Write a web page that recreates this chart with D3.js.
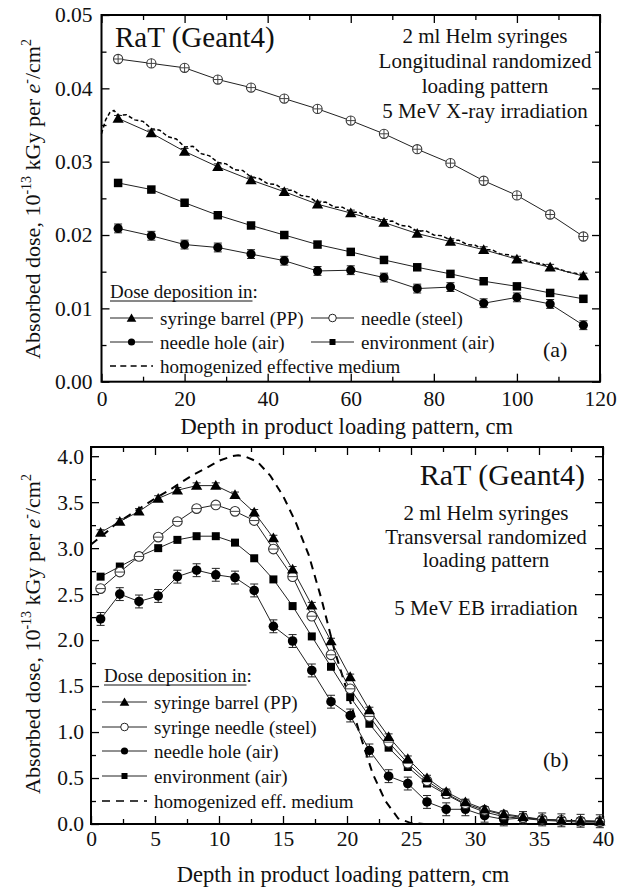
<!DOCTYPE html>
<html>
<head>
<meta charset="utf-8">
<script src="https://cdn.jsdelivr.net/npm/d3@7"></script>
<style>
  html, body { margin: 0; padding: 0; background: #fff; }
  svg { display: block; }
  text { font-family: "Liberation Serif", "Times New Roman", serif; fill: #111; }
</style>
</head>
<body>
<svg id="chart" width="634" height="888"></svg>
<script>
// ---------------- DATA ----------------
// Panel (a): longitudinal loading pattern, X-ray
const depthA = [4, 12, 20, 28, 36, 44, 52, 60, 68, 76, 84, 92, 100, 108, 116];
const barrelA = [0.0359, 0.0339, 0.0314, 0.0293, 0.0275, 0.0259, 0.0242, 0.0230, 0.0217, 0.0202, 0.0191, 0.0180, 0.0167, 0.0156, 0.0144];
const needleA = [0.0440, 0.0434, 0.0428, 0.0412, 0.0401, 0.0386, 0.0372, 0.0356, 0.0338, 0.0317, 0.0298, 0.0274, 0.0254, 0.0228, 0.0198];
const holeA   = [0.0209, 0.0199, 0.0187, 0.0183, 0.0174, 0.0165, 0.0151, 0.0152, 0.0142, 0.0127, 0.0129, 0.0107, 0.0115, 0.0106, 0.0077];
const envA    = [0.0271, 0.0262, 0.0244, 0.0227, 0.0213, 0.0200, 0.0187, 0.0177, 0.0166, 0.0156, 0.0147, 0.0137, 0.0130, 0.0121, 0.0113];
const holeErrA = 0.0006;
const barrelErrA = 0.0004;
const homDepthA = [0,1,2,3,4,6,8,10,12,14,16,18,20,22,24,26,28,30,32,34,36,38,40,42,44,46,48,50,52,54,56,58,60,62,64,66,68,70,72,74,76,78,80,82,84,86,88,90,92,94,96,98,100,102,104,106,108,110,112,114,116];
const homA = [0.0338,0.0357,0.0367,0.0370,0.0363,0.0364,0.0357,0.0355,0.0345,0.0343,0.0334,0.0331,0.0320,0.0321,0.0311,0.0308,0.0299,0.0297,0.0289,0.0288,0.0279,0.0277,0.0270,0.0269,0.0261,0.0261,0.0254,0.0252,0.0244,0.0245,0.0238,0.0238,0.0231,0.0231,0.0225,0.0224,0.0218,0.0219,0.0213,0.0212,0.0205,0.0206,0.0200,0.0199,0.0193,0.0193,0.0187,0.0186,0.0180,0.0180,0.0174,0.0173,0.0168,0.0166,0.0162,0.0161,0.0156,0.0154,0.0150,0.0148,0.0145];
const xTicksA = [0, 20, 40, 60, 80, 100, 120];
const yTicksA = [0.00, 0.01, 0.02, 0.03, 0.04, 0.05];
const legendA = ["syringe barrel (PP)", "needle (steel)", "needle hole (air)", "environment (air)", "homogenized effective medium"];
const notesA = ["2 ml Helm syringes", "Longitudinal randomized", "loading pattern", "5 MeV X-ray irradiation"];

// Panel (b): transversal loading pattern, EB
const depthB = [0.75,2.25,3.75,5.25,6.75,8.25,9.75,11.25,12.75,14.25,15.75,17.25,18.75,20.25,21.75,23.25,24.75,26.25,27.75,29.25,30.75,32.25,33.75,35.25,36.75,38.25,39.75];
const barrelB = [3.17,3.29,3.40,3.54,3.63,3.68,3.68,3.58,3.39,3.11,2.77,2.38,1.99,1.60,1.24,0.95,0.71,0.50,0.35,0.24,0.16,0.11,0.08,0.05,0.04,0.035,0.03];
const needleB = [2.56,2.74,2.91,3.12,3.29,3.43,3.47,3.40,3.30,2.99,2.69,2.26,1.84,1.47,1.17,0.89,0.66,0.47,0.33,0.22,0.15,0.10,0.07,0.05,0.04,0.03,0.025];
const holeB   = [2.23,2.50,2.42,2.48,2.69,2.76,2.71,2.68,2.54,2.15,1.99,1.67,1.33,1.18,0.80,0.52,0.44,0.24,0.16,0.16,0.09,0.05,0.065,0.05,0.04,0.035,0.03];
const envB    = [2.69,2.80,2.91,3.00,3.09,3.13,3.13,3.06,2.89,2.66,2.37,2.04,1.71,1.38,1.09,0.83,0.62,0.44,0.32,0.21,0.13,0.08,0.06,0.04,0.03,0.02,0.02];
const holeErrB = 0.07;
const barrelErrB = 0.03;
const homDepthB = [0,1,2,3,4,5,6,7,8,9,10,11,11.5,12,13,14,15,16,17,18,19,20,21,22,23,24,25,26,28,30,32,34,36,38,40];
const homB = [3.04,3.15,3.27,3.36,3.45,3.54,3.62,3.71,3.80,3.87,3.95,4.00,4.01,4.00,3.94,3.79,3.57,3.28,2.93,2.45,1.90,1.45,0.98,0.55,0.25,0.06,0.01,0.0,0.0,0.0,0.0,0.0,0.0,0.0,0.0];
const xTicksB = [0, 5, 10, 15, 20, 25, 30, 35, 40];
const yTicksB = [0.0, 0.5, 1.0, 1.5, 2.0, 2.5, 3.0, 3.5, 4.0];
const legendB = ["syringe barrel (PP)", "syringe needle (steel)", "needle hole (air)", "environment (air)", "homogenized eff. medium"];
const notesB = ["2 ml Helm syringes", "Transversal randomized", "loading pattern", "", "5 MeV EB irradiation"];

const xTitle = "Depth in product loading pattern, cm";
const modelTitle = "RaT (Geant4)";

// ---------------- DRAWING ----------------
const svg = d3.select("#chart");
svg.append("rect").attr("width", 634).attr("height", 888).attr("fill", "#fff");

function drawYTitle(cy) {
  const t = svg.append("text")
    .attr("transform", `translate(40,${cy}) rotate(-90)`)
    .attr("text-anchor", "middle")
    .style("font-size", "22px");
  t.append("tspan").text("Absorbed dose, 10");
  t.append("tspan").attr("dy", -9).style("font-size", "14px").text("-13");
  t.append("tspan").attr("dy", 9).text(" kGy per ");
  t.append("tspan").style("font-style", "italic").text("e");
  t.append("tspan").attr("dy", -9).style("font-size", "14px").text("-");
  t.append("tspan").attr("dy", 9).text("/cm");
  t.append("tspan").attr("dy", -9).style("font-size", "14px").text("2");
}

function drawMarker(g, type, x, y, s) {
  if (type === "tri") {
    g.append("path").attr("transform", `translate(${x},${y + 1})`)
      .attr("d", d3.symbol(d3.symbolTriangle, s.tri)()).attr("fill", "#000");
  } else if (type === "sq") {
    g.append("path").attr("transform", `translate(${x},${y})`)
      .attr("d", d3.symbol(d3.symbolSquare, s.sq)()).attr("fill", "#000");
  } else if (type === "dot") {
    g.append("circle").attr("cx", x).attr("cy", y).attr("r", s.dot).attr("fill", "#000");
  } else if (type === "open") {
    g.append("circle").attr("cx", x).attr("cy", y).attr("r", s.open)
      .attr("fill", "#fff").attr("stroke", "#333").attr("stroke-width", 1.1);
    g.append("line").attr("x1", x - s.open).attr("x2", x + s.open).attr("y1", y).attr("y2", y)
      .attr("stroke", "#444").attr("stroke-width", 1);
    if (s.cross) {
      g.append("line").attr("x1", x).attr("x2", x).attr("y1", y - s.open).attr("y2", y + s.open)
        .attr("stroke", "#444").attr("stroke-width", 1);
    }
  }
}

function drawPanel(cfg) {
  const x = d3.scaleLinear().domain(cfg.xDomain).range([cfg.left, cfg.right]);
  const y = d3.scaleLinear().domain(cfg.yDomain).range([cfg.bottom, cfg.top]);
  const g = svg.append("g");

  // axes: major + minor ticks, inward on all sides
  const fs = "21.5px";
  const xAxisB = g.append("g").attr("transform", `translate(0,${cfg.bottom})`)
    .call(d3.axisBottom(x).tickValues(cfg.xTicks).tickFormat(cfg.xFmt).tickSize(-8).tickPadding(cfg.xPad));
  const xAxisBm = g.append("g").attr("transform", `translate(0,${cfg.bottom})`)
    .call(d3.axisBottom(x).tickValues(cfg.xMinor).tickFormat("").tickSize(-5));
  const xAxisT = g.append("g").attr("transform", `translate(0,${cfg.top})`)
    .call(d3.axisTop(x).tickValues(cfg.xTicks).tickFormat("").tickSize(-8));
  const xAxisTm = g.append("g").attr("transform", `translate(0,${cfg.top})`)
    .call(d3.axisTop(x).tickValues(cfg.xMinor).tickFormat("").tickSize(-5));
  const yAxisL = g.append("g").attr("transform", `translate(${cfg.left},0)`)
    .call(d3.axisLeft(y).tickValues(cfg.yTicks).tickFormat(cfg.yFmt).tickSize(-8).tickPadding(cfg.yPad));
  const yAxisLm = g.append("g").attr("transform", `translate(${cfg.left},0)`)
    .call(d3.axisLeft(y).tickValues(cfg.yMinor).tickFormat("").tickSize(-5));
  const yAxisR = g.append("g").attr("transform", `translate(${cfg.right},0)`)
    .call(d3.axisRight(y).tickValues(cfg.yTicks).tickFormat("").tickSize(-8));
  const yAxisRm = g.append("g").attr("transform", `translate(${cfg.right},0)`)
    .call(d3.axisRight(y).tickValues(cfg.yMinor).tickFormat("").tickSize(-5));
  [xAxisB, xAxisBm, xAxisT, xAxisTm, yAxisL, yAxisLm, yAxisR, yAxisRm].forEach(a => {
    a.select(".domain").remove();
    a.selectAll(".tick line").attr("stroke", "#000").attr("stroke-width", 1.3);
    a.selectAll("text").style("font-size", fs).style("font-family", "Liberation Serif").attr("fill", "#111");
  });

  // frame
  g.append("rect").attr("x", cfg.left).attr("y", cfg.top)
    .attr("width", cfg.right - cfg.left).attr("height", cfg.bottom - cfg.top)
    .attr("fill", "none").attr("stroke", "#000").attr("stroke-width", 2);

  const plot = g.append("g");
  const line = d3.line().x(d => x(d[0])).y(d => y(d[1]));

  // homogenized dashed
  plot.append("path").datum(cfg.homX.map((d, i) => [d, cfg.hom[i]]))
    .attr("d", line).attr("fill", "none").attr("stroke", "#000")
    .attr("stroke-width", cfg.homWidth).attr("stroke-dasharray", cfg.homDash);

  const series = [
    { v: cfg.env, type: "sq", err: 0 },
    { v: cfg.hole, type: "dot", err: cfg.holeErr },
    { v: cfg.needle, type: "open", err: 0 },
    { v: cfg.barrel, type: "tri", err: cfg.barrelErr }
  ];
  series.forEach(s => {
    plot.append("path").datum(cfg.depth.map((d, i) => [d, s.v[i]]))
      .attr("d", line).attr("fill", "none").attr("stroke", "#222").attr("stroke-width", 1);
  });
  series.forEach(s => {
    cfg.depth.forEach((d, i) => {
      const cx = x(d), cy = y(s.v[i]);
      if (s.err) {
        const y1 = y(s.v[i] + s.err), y2 = y(s.v[i] - s.err);
        plot.append("line").attr("x1", cx).attr("x2", cx).attr("y1", y1).attr("y2", y2).attr("stroke", "#222").attr("stroke-width", 1);
        plot.append("line").attr("x1", cx - 4).attr("x2", cx + 4).attr("y1", y1).attr("y2", y1).attr("stroke", "#222").attr("stroke-width", 1);
        plot.append("line").attr("x1", cx - 4).attr("x2", cx + 4).attr("y1", y2).attr("y2", y2).attr("stroke", "#222").attr("stroke-width", 1);
      }
      drawMarker(plot, s.type, cx, cy, cfg.msize);
    });
  });

  // legend
  const lg = g.append("g");
  const head = lg.append("text").attr("x", cfg.legX).attr("y", cfg.legHeadY).style("font-size", "19px");
  head.append("tspan").text("Dose deposition in");
  const hw = head.node().getComputedTextLength();
  head.append("tspan").text(":");
  lg.append("line").attr("x1", cfg.legX).attr("x2", cfg.legX + hw)
    .attr("y1", cfg.legHeadY + 3).attr("y2", cfg.legHeadY + 3).attr("stroke", "#111").attr("stroke-width", 1);
  const lsize = { tri: 40, sq: 36, dot: 3.6, open: 3.6, cross: false };
  const types = ["tri", "open", "dot", "sq", "dash"];
  cfg.legPos.forEach((p, i) => {
    const [lx, ly] = p;
    if (types[i] === "dash") {
      lg.append("line").attr("x1", lx).attr("x2", lx + cfg.legLineW).attr("y1", ly).attr("y2", ly)
        .attr("stroke", "#000").attr("stroke-width", 1.4).attr("stroke-dasharray", cfg.legDash);
    } else {
      lg.append("line").attr("x1", lx).attr("x2", lx + cfg.legLineW).attr("y1", ly).attr("y2", ly)
        .attr("stroke", "#222").attr("stroke-width", 1);
      const cx = lx + cfg.legLineW / 2;
      if (types[i] === "open") {
        lg.append("circle").attr("cx", cx).attr("cy", ly).attr("r", 3.8).attr("fill", "#fff").attr("stroke", "#222").attr("stroke-width", 1);
      } else {
        drawMarker(lg, types[i], cx, ly, lsize);
      }
    }
    lg.append("text").attr("x", lx + cfg.legLineW + 7).attr("y", ly + 6.5)
      .style("font-size", "19px").text(cfg.legend[i]);
  });

  // annotations
  g.append("text").attr("x", cfg.titleX).attr("y", cfg.titleY).attr("text-anchor", cfg.titleAnchor)
    .style("font-size", cfg.titleSize).text(modelTitle);
  cfg.notes.forEach((n, i) => {
    g.append("text").attr("x", cfg.notesX).attr("y", cfg.notesY + i * cfg.notesDy)
      .attr("text-anchor", "middle").style("font-size", "21px").text(n);
  });
  g.append("text").attr("x", cfg.tagX).attr("y", cfg.tagY).style("font-size", "22px").text(cfg.tag);

  // x title
  g.append("text").attr("x", (cfg.left + cfg.right) / 2 - 4).attr("y", cfg.xTitleY)
    .attr("text-anchor", "middle").style("font-size", "22.5px").text(xTitle);
}

drawPanel({
  left: 101.5, right: 600, top: 15, bottom: 381.7,
  xDomain: [0, 120], yDomain: [0, 0.05],
  xTicks: xTicksA, xMinor: [10, 30, 50, 70, 90, 110],
  yTicks: yTicksA, yMinor: [0.005, 0.015, 0.025, 0.035, 0.045],
  xFmt: d3.format("d"), yFmt: d3.format(".2f"), xPad: 9, yPad: 9,
  depth: depthA, barrel: barrelA, needle: needleA, hole: holeA, env: envA,
  holeErr: holeErrA, barrelErr: barrelErrA,
  homX: homDepthA, hom: homA, homWidth: 1.5, homDash: "4,2.5",
  msize: { tri: 55, sq: 72, dot: 4.6, open: 4.6, cross: true },
  legend: legendA, legX: 110, legHeadY: 298, legLineW: 43, legDash: "6,4.3",
  legPos: [[110, 318], [311, 318], [110, 342], [311, 342], [110, 366]],
  titleX: 115, titleY: 47, titleAnchor: "start", titleSize: "29px",
  notes: notesA, notesX: 485, notesY: 43, notesDy: 25,
  tag: "(a)", tagX: 543, tagY: 357,
  xTitleY: 434
});

drawPanel({
  left: 91, right: 603, top: 447, bottom: 824,
  xDomain: [0, 40], yDomain: [0, 4.1],
  xTicks: xTicksB, xMinor: [2.5, 7.5, 12.5, 17.5, 22.5, 27.5, 32.5, 37.5],
  yTicks: yTicksB, yMinor: [0.25, 0.75, 1.25, 1.75, 2.25, 2.75, 3.25, 3.75],
  xFmt: d3.format("d"), yFmt: d3.format(".1f"), xPad: 7, yPad: 7,
  depth: depthB, barrel: barrelB, needle: needleB, hole: holeB, env: envB,
  holeErr: holeErrB, barrelErr: barrelErrB,
  homX: homDepthB, hom: homB, homWidth: 2, homDash: "8,6",
  msize: { tri: 55, sq: 64, dot: 4.8, open: 4.8, cross: false },
  legend: legendB, legX: 104, legHeadY: 682, legLineW: 45, legDash: "8,6",
  legPos: [[102, 702], [102, 727], [102, 751], [102, 776], [102, 801]],
  titleX: 585, titleY: 485, titleAnchor: "end", titleSize: "30px",
  notes: notesB, notesX: 486, notesY: 520, notesDy: 23.7,
  tag: "(b)", tagX: 543, tagY: 767,
  xTitleY: 882
});

drawYTitle(199);
drawYTitle(634);
</script>
</body>
</html>
